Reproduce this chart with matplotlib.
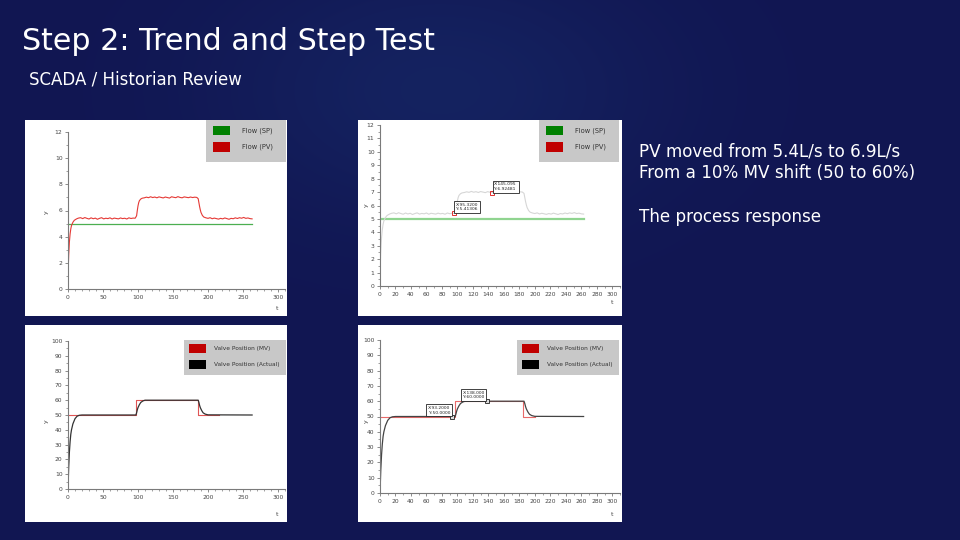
import numpy as np
import matplotlib
matplotlib.use("Agg")
import matplotlib.pyplot as plt
from matplotlib.patches import Rectangle

# ---------------- data ----------------
title = "Step 2: Trend and Step Test"
subtitle = "SCADA / Historian Review"
notes = ["PV moved from 5.4L/s to 6.9L/s", "From a 10% MV shift (50 to 60%)", "The process response"]

pv_t = [0, 1, 2, 3, 4, 5, 7, 9, 11, 13, 15, 18, 21, 24, 27, 30, 33, 36, 39, 42, 45, 48,
        51, 54, 57, 60, 63, 66, 69, 72, 75, 78, 81, 84, 87, 90, 93, 96, 98, 99, 100, 101,
        102, 104, 106, 109, 112, 115, 118, 121, 124, 127, 130, 133, 136, 139, 142, 145,
        148, 151, 154, 157, 160, 163, 166, 169, 172, 175, 178, 181, 184, 186, 187, 188,
        189, 190, 192, 194, 197, 200, 203, 206, 209, 212, 215, 218, 221, 224, 227, 230,
        233, 236, 239, 242, 245, 248, 251, 254, 257, 260, 263]
pv_y = [1.0, 2.6, 3.6, 4.2, 4.6, 4.85, 5.1, 5.25, 5.32, 5.38, 5.42, 5.45, 5.38, 5.46, 5.40,
        5.35, 5.44, 5.37, 5.42, 5.33, 5.40, 5.45, 5.36, 5.41, 5.38, 5.44, 5.35, 5.42, 5.39,
        5.36, 5.43, 5.38, 5.41, 5.35, 5.44, 5.39, 5.42, 5.41, 5.6, 6.0, 6.35, 6.6, 6.75,
        6.88, 6.94, 6.97, 7.02, 6.98, 7.05, 6.99, 7.03, 6.97, 7.04, 7.00, 6.96, 7.03, 6.99,
        6.95, 7.05, 7.01, 6.98, 7.06, 7.00, 6.97, 7.04, 7.01, 6.98, 7.03, 6.99, 7.02, 7.00,
        6.9, 6.6, 6.3, 6.05, 5.85, 5.62, 5.50, 5.44, 5.40, 5.45, 5.37, 5.42, 5.38, 5.34,
        5.40, 5.36, 5.43, 5.38, 5.33, 5.40, 5.37, 5.44, 5.39, 5.45, 5.41, 5.47, 5.40, 5.43,
        5.38, 5.36]
sp_t = [0, 263]
sp_y = [5.0, 5.0]

mv_t_left = [0, 97, 97, 185, 185, 215]
mv_t_right = [0, 97, 97, 185, 185, 200]
mv_y = [50, 50, 60, 60, 50, 50]

act_t = [0, 1, 2, 3, 4, 5, 7, 10, 13, 16, 20, 97, 98, 99, 100, 102, 104, 107, 110,
         186, 187, 188, 189, 191, 193, 196, 200, 263]
act_y = [0, 15, 25, 32, 37, 40, 44, 47.5, 49.2, 49.8, 50, 50, 51.5, 53.5, 55, 57, 58.5,
         59.5, 60, 60, 58.5, 56.5, 55, 53, 51.5, 50.6, 50.1, 50]

tips_flow = [(95.32, 5.41306, "X:95.3200\nY:5.41306"), (145.095, 6.92481, "X:145.095\nY:6.92481")]
tips_valve = [(93.2, 50.0, "X:93.2000\nY:50.0000"), (138.0, 60.0, "X:138.000\nY:60.0000")]

flow_legend = [("Flow (SP)", "#008000"), ("Flow (PV)", "#c00000")]
valve_legend = [("Valve Position (MV)", "#c00000"), ("Valve Position (Actual)", "#000000")]

# ---------------- figure ----------------
W, H = 960, 540
fig = plt.figure(figsize=(9.6, 5.4), dpi=100)

# background with soft glow
bg = fig.add_axes([0, 0, 1, 1])
yy, xx = np.mgrid[0:H, 0:W]
glow = np.exp(-(((xx - 440) / 220.0) ** 2 + ((yy - 90) / 130.0) ** 2))
base = np.array([0x11, 0x16, 0x52]) / 255.0
light = np.array([0x1a, 0x35, 0x75]) / 255.0
k = glow[..., None] * 0.4
img = base[None, None, :] * (1 - k) + light[None, None, :] * k
bg.imshow(img, extent=[0, W, H, 0], aspect="auto")
bg.set_xlim(0, W)
bg.set_ylim(H, 0)
bg.axis("off")


def rect(x0, y0, x1, y1):
    return [x0 / W, 1 - y1 / H, (x1 - x0) / W, (y1 - y0) / H]


# white panels
for (x0, y0, x1, y1) in [(25, 120, 287, 316), (25, 325, 287, 522),
                         (358, 120, 622, 316), (358, 325, 622, 522)]:
    bg.add_patch(Rectangle((x0, y0), x1 - x0, y1 - y0, facecolor="white", edgecolor="none", zorder=2))


def style(ax, xmaj, xmin, ymaj, ymin, ylim):
    ax.set_xlim(0, 310)
    ax.set_ylim(*ylim)
    for s in ["top", "right"]:
        ax.spines[s].set_visible(False)
    for s in ["left", "bottom"]:
        ax.spines[s].set_color("#7a7a7a")
        ax.spines[s].set_linewidth(0.8)
    ax.set_xticks(np.arange(0, 301, xmaj))
    ax.set_xticks(np.arange(0, 311, xmin), minor=True)
    ax.set_yticks(np.arange(ylim[0], ylim[1] + 0.01, ymaj))
    ax.set_yticks(np.arange(ylim[0], ylim[1] + 0.01, ymin), minor=True)
    ax.tick_params(which="major", length=2.5, width=0.6, color="#7a7a7a", labelsize=4.3,
                   labelcolor="#444444", pad=1.5)
    ax.tick_params(which="minor", length=1.3, width=0.5, color="#7a7a7a")
    ax.set_facecolor("none")


def legend(x0, y0, x1, y1, px, tx, rows, entries, fs):
    bg.add_patch(Rectangle((x0, y0), x1 - x0, y1 - y0, facecolor="#c8c8c8", edgecolor="none", zorder=5))
    for (label, col), (ry0, ry1) in zip(entries, rows):
        bg.add_patch(Rectangle((px, ry0), 17, ry1 - ry0, facecolor=col, edgecolor="none", zorder=6))
        bg.text(tx, (ry0 + ry1) / 2, label, fontsize=fs, color="#333333", va="center", ha="left", zorder=7)


# ---- left top: flow ----
ax1 = fig.add_axes(rect(68, 132, 285, 289))
ax1.plot(sp_t, sp_y, color="#4caf50", lw=0.9)
ax1.plot(pv_t, pv_y, color="#e53935", lw=0.8)
style(ax1, 50, 10, 2, 1, (0, 12))
ax1.set_yticks(np.arange(0, 12.1, 2))

# ---- left bottom: valve ----
ax2 = fig.add_axes(rect(68, 341, 285, 489))
ax2.plot(mv_t_left, mv_y, color="#e05555", lw=0.8)
ax2.plot(act_t, act_y, color="#333333", lw=0.9)
style(ax2, 50, 10, 10, 5, (0, 100))

# ---- right top: flow ----
ax3 = fig.add_axes(rect(380, 125, 620, 286))
ax3.plot(sp_t, sp_y, color="#90d490", lw=1.6)
ax3.plot(pv_t, pv_y, color="#d6d6d6", lw=0.8)
style(ax3, 20, 10, 1, 0.5, (0, 12))
for (tx, ty, lab) in tips_flow:
    ax3.plot([tx], [ty], marker="s", ms=3.5, mfc="none", mec="#e03030", mew=0.7)
    ax3.annotate(lab, xy=(tx, ty), xytext=(2, 2), textcoords="offset pixels", fontsize=3.2,
                 ha="left", va="bottom", color="#222222",
                 bbox=dict(boxstyle="square,pad=0.35", fc="white", ec="#222222", lw=0.6))

# ---- right bottom: valve ----
ax4 = fig.add_axes(rect(380, 340, 620, 493))
ax4.plot(mv_t_right, mv_y, color="#e86a6a", lw=0.8)
ax4.plot(act_t, act_y, color="#444444", lw=0.9)
style(ax4, 20, 10, 10, 5, (0, 100))
for (tx, ty, lab) in tips_valve:
    ax4.plot([tx], [ty], marker="s", ms=3.5, mfc="#dddddd", mec="#222222", mew=0.6)
    ax4.annotate(lab, xy=(tx, ty), xytext=(-2, 2), textcoords="offset pixels", fontsize=3.2,
                 ha="right", va="bottom", color="#222222",
                 bbox=dict(boxstyle="square,pad=0.35", fc="white", ec="#222222", lw=0.6))

# axis name labels
for (x, y) in [(46, 212), (366, 205), (46, 421), (366, 421)]:
    bg.text(x, y, "y", fontsize=4.5, color="#444444", rotation=90, ha="center", va="center", zorder=7)
for (x, y) in [(277, 308), (612, 302), (277, 515), (612, 514)]:
    bg.text(x, y, "t", fontsize=4.5, color="#444444", ha="center", va="center", zorder=7)

# legends
legend(206, 120, 286, 162, 213, 242, [(126, 135), (142, 152)], flow_legend, 4.8)
legend(539, 120, 619, 162, 546, 575, [(126, 135), (142, 152)], flow_legend, 4.8)
legend(184, 340, 286, 375, 189, 214, [(344, 353), (360, 369)], valve_legend, 4.2)
legend(517, 340, 619, 375, 522, 547, [(344, 353), (360, 369)], valve_legend, 4.2)

# slide text
bg.text(22, 42, title, fontsize=21.7, color="white", ha="left", va="center", family="DejaVu Sans")
bg.text(29, 80, subtitle, fontsize=12, color="white", ha="left", va="center", family="DejaVu Sans")
for txt, y in zip(notes, [151, 173, 217]):
    bg.text(639, y, txt, fontsize=12.1, color="white", ha="left", va="center", family="DejaVu Sans")

fig.savefig("out.png", dpi=100)
